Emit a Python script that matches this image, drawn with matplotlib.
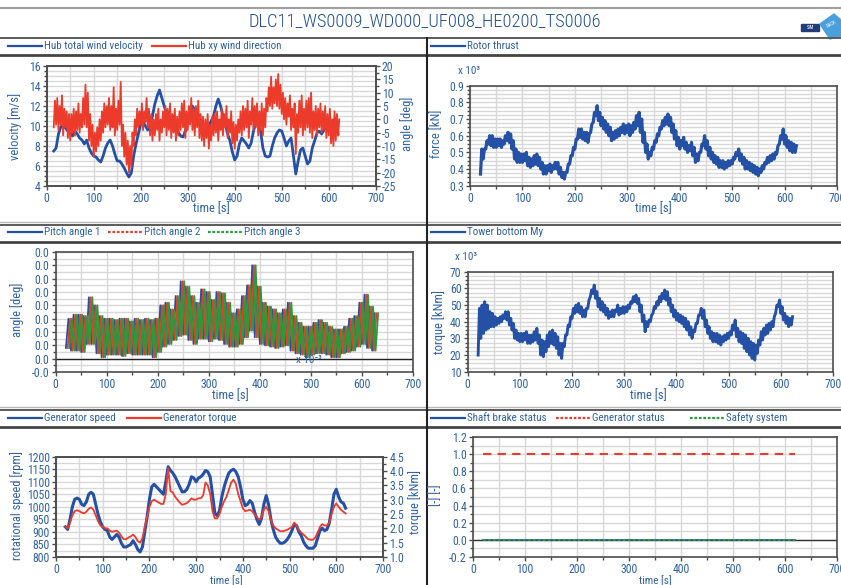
import numpy as np
import matplotlib
matplotlib.use('Agg')
import matplotlib.pyplot as plt
from matplotlib import font_manager
from matplotlib.lines import Line2D
from matplotlib.patches import Polygon, Rectangle
from matplotlib.ticker import MultipleLocator, FixedLocator, FixedFormatter, FormatStrFormatter

# schmale Schrift, falls vorhanden
vorhanden = {f.name for f in font_manager.fontManager.ttflist}
schmal = [n for n in ['Liberation Sans Narrow', 'Roboto Condensed', 'Open Sans Condensed',
                      'Noto Sans Condensed', 'DejaVu Sans Condensed'] if n in vorhanden]
hat_schmal = bool(schmal)
plt.rcParams['font.family'] = schmal + ['DejaVu Sans']
plt.rcParams['font.stretch'] = 'condensed'
plt.rcParams['axes.unicode_minus'] = False
FS = 8.5 if hat_schmal else 7.5
FS_BAND = 7.9 if hat_schmal else 7.0

titel = "DLC11_WS0009_WD000_UF008_HE0200_TS0006"

# --- hub wind (t = 15..620 s, 5 s) ---
t_wind = np.arange(15, 621, 5)
wind_speed = [7.5, 7.8, 9.2, 9.9, 10.1, 9.8, 9.5, 9.3, 9.0, 9.5,
              9.2, 8.8, 8.6, 8.2, 8.6, 7.8, 7.3, 7.0, 6.9, 6.6,
              6.4, 7.0, 7.8, 8.3, 8.6, 8.0, 7.2, 6.5, 6.5, 6.2,
              5.8, 5.3, 4.9, 5.3, 7.0, 8.2, 9.2, 10.2, 10.4, 10.0,
              9.6, 10.2, 11.0, 12.2, 13.0, 13.6, 12.8, 12.0, 11.2, 10.5,
              10.0, 9.8, 9.5, 9.4, 9.0, 8.9, 9.5, 10.5, 11.5, 12.0,
              11.6, 11.2, 11.0, 10.0, 9.3, 9.5, 10.0, 10.5, 11.0, 12.0,
              12.7, 12.0, 11.0, 10.2, 9.2, 8.5, 7.4, 6.6, 7.0, 8.2,
              8.8, 8.5, 8.2, 7.8, 8.3, 9.5, 10.3, 10.5, 9.5, 7.8,
              7.0, 6.9, 7.0, 8.0, 8.8, 9.3, 9.6, 9.5, 8.8, 8.0,
              8.5, 8.8, 7.0, 5.2, 6.5, 7.6, 7.8, 7.0, 6.2, 6.5,
              7.8, 8.5, 9.3, 9.5, 9.2, 9.6, 10.2, 10.0, 9.4, 10.5,
              10.8, 9.2]
wind_dir_lo = [-3, -2, -4, -2, -6, -3, -7, -8, -5, -6,
               -4, -5, -3, -2, -3, -8, -10, -14, -12, -10,
               -8, -5, -3, -2, -4, -3, -6, -4, -2, -10,
               -14, -17, -20, -18, -10, -6, -3, -2, -4, -1,
               -3, -6, -8, -6, -4, -8, -5, -3, -6, -4,
               -7, -5, -8, -6, -4, -3, -7, -4, -2, -4,
               -6, -3, -7, -8, -10, -7, -11, -8, -6, -5,
               -8, -4, -6, -3, -7, -5, -9, -11, -8, -5,
               -6, -4, -3, -7, -2, -4, -3, -6, -4, -6,
               -3, 3, 5, 4, 6, 5, 4, 2, 0, -2,
               1, -4, -3, -13, -5, -3, -6, -4, -3, -5,
               -7, -4, -6, -3, -5, -4, -7, -6, -9, -10,
               -8, -6]
wind_dir_hi = [7, 8, 5, 9, 4, 3, 2, 2, 4, 3,
               6, 2, 8, 13, 10, 2, -2, -5, -3, 0,
               3, 6, 5, 8, 5, 12, 4, 7, 14, -2,
               -5, -8, -10, -5, 0, 4, 3, 6, 3, 8,
               4, 2, 0, 2, 4, 0, 3, 5, 4, 6,
               2, 4, 1, 3, 6, 7, 3, 5, 8, 4,
               5, 7, 2, 1, 0, 2, -2, 1, 2, 3,
               0, 4, 2, 5, 0, 3, -1, -2, 0, 3,
               5, 4, 7, 3, 8, 5, 6, 3, 6, 4,
               8, 12, 16, 12, 15, 17, 13, 10, 8, 6,
               9, 4, 6, 2, 7, 9, 4, 7, 8, 10,
               3, 5, 4, 6, 3, 5, 2, 4, 0, 3,
               2, 0]

# --- loads (t = 20..620 s, 5 s), x 10^3 ---
t_load = np.arange(20, 621, 5)
thrust_lo = [0.37, 0.46, 0.52, 0.55, 0.54, 0.53, 0.53, 0.54, 0.53, 0.55,
             0.57, 0.56, 0.52, 0.46, 0.44, 0.44, 0.44, 0.45, 0.42, 0.41,
             0.42, 0.43, 0.42, 0.40, 0.37, 0.37, 0.39, 0.38, 0.40, 0.40,
             0.37, 0.35, 0.34, 0.38, 0.43, 0.48, 0.52, 0.58, 0.59, 0.58,
             0.57, 0.56, 0.62, 0.68, 0.72, 0.69, 0.66, 0.64, 0.62, 0.60,
             0.57, 0.58, 0.59, 0.60, 0.62, 0.61, 0.62, 0.60, 0.62, 0.64,
             0.66, 0.62, 0.56, 0.50, 0.46, 0.48, 0.52, 0.56, 0.60, 0.64,
             0.66, 0.67, 0.66, 0.62, 0.58, 0.54, 0.52, 0.54, 0.52, 0.50,
             0.51, 0.48, 0.44, 0.45, 0.50, 0.54, 0.52, 0.48, 0.46, 0.44,
             0.43, 0.41, 0.41, 0.40, 0.41, 0.42, 0.43, 0.46, 0.48, 0.45,
             0.43, 0.40, 0.40, 0.39, 0.38, 0.37, 0.36, 0.38, 0.40, 0.43,
             0.44, 0.45, 0.46, 0.49, 0.55, 0.58, 0.55, 0.53, 0.51, 0.50, 0.50]
thrust_hi = [0.52, 0.52, 0.57, 0.60, 0.60, 0.58, 0.58, 0.58, 0.57, 0.60,
             0.62, 0.61, 0.57, 0.52, 0.50, 0.49, 0.49, 0.50, 0.47, 0.46,
             0.48, 0.49, 0.47, 0.44, 0.42, 0.42, 0.43, 0.42, 0.44, 0.44,
             0.41, 0.38, 0.38, 0.43, 0.48, 0.53, 0.58, 0.64, 0.64, 0.62,
             0.62, 0.61, 0.67, 0.74, 0.78, 0.74, 0.71, 0.69, 0.67, 0.65,
             0.62, 0.63, 0.64, 0.65, 0.67, 0.66, 0.67, 0.66, 0.68, 0.72,
             0.74, 0.70, 0.62, 0.55, 0.50, 0.53, 0.57, 0.61, 0.65, 0.69,
             0.71, 0.73, 0.71, 0.67, 0.63, 0.59, 0.57, 0.59, 0.56, 0.54,
             0.56, 0.53, 0.49, 0.50, 0.55, 0.60, 0.57, 0.53, 0.50, 0.48,
             0.47, 0.45, 0.45, 0.44, 0.45, 0.45, 0.47, 0.50, 0.52, 0.49,
             0.47, 0.45, 0.44, 0.43, 0.42, 0.41, 0.40, 0.42, 0.44, 0.47,
             0.48, 0.49, 0.50, 0.54, 0.60, 0.64, 0.60, 0.57, 0.56, 0.55, 0.54]
tower_lo = [20, 30, 33, 35, 36, 37, 37, 38, 39, 40,
            42, 41, 38, 35, 30, 29, 28, 28, 29, 27,
            27, 28, 29, 27, 20, 19, 22, 25, 27, 26,
            24, 20, 18, 25, 32, 37, 42, 45, 46, 45,
            43, 43, 48, 55, 57, 54, 49, 47, 46, 44,
            42, 43, 43, 46, 44, 45, 45, 46, 48, 51,
            52, 51, 46, 40, 34, 37, 40, 45, 48, 50,
            52, 54, 53, 50, 46, 43, 41, 40, 39, 37,
            35, 32, 30, 34, 39, 44, 42, 37, 33, 30,
            28, 28, 27, 26, 28, 29, 30, 32, 35, 31,
            28, 27, 24, 22, 20, 18, 17, 21, 26, 29,
            32, 33, 35, 37, 45, 49, 45, 41, 39, 37, 38]
tower_hi = [48, 50, 52, 50, 46, 45, 43, 42, 43, 44,
            46, 46, 42, 39, 35, 33, 33, 33, 34, 32,
            32, 34, 36, 32, 29, 28, 32, 34, 35, 33,
            31, 27, 27, 32, 38, 43, 48, 50, 51, 49,
            47, 48, 53, 59, 62, 58, 54, 52, 50, 48,
            46, 47, 47, 50, 48, 49, 49, 50, 52, 55,
            56, 54, 50, 44, 40, 41, 44, 49, 52, 55,
            57, 59, 58, 54, 50, 47, 45, 44, 43, 42,
            40, 37, 35, 39, 44, 48, 47, 41, 37, 34,
            33, 33, 32, 31, 32, 33, 34, 38, 41, 36,
            34, 33, 32, 30, 28, 27, 26, 29, 34, 36,
            38, 39, 40, 43, 50, 53, 49, 45, 43, 42, 43]

# --- generator (t = 20..620 s, 5 s) ---
gen_speed = [920, 910, 950, 1000, 1030, 1035, 1030, 1010, 1005, 1020,
             1050, 1058, 1050, 1010, 970, 940, 920, 910, 905, 880,
             870, 880, 890, 880, 855, 840, 840, 845, 850, 865,
             850, 830, 820, 840, 900, 960, 1030, 1080, 1090, 1080,
             1070, 1060, 1050, 1100, 1160, 1145, 1135, 1120, 1100, 1080,
             1060, 1060, 1070, 1090, 1120, 1115, 1100, 1115, 1120, 1130,
             1145, 1140, 1120, 1050, 975, 965, 985, 1040, 1080, 1110,
             1135, 1145, 1150, 1140, 1120, 1080, 1030, 1005, 1010, 1025,
             1015, 980, 950, 930, 955, 1010, 1045, 1010, 950, 910,
             880, 865, 855, 855, 860, 870, 885, 905, 930, 925,
             900, 885, 860, 845, 835, 835, 835, 845, 875, 905,
             915, 905, 910, 935, 990, 1050, 1070, 1040, 1020, 1015, 995]
gen_torque = [2.05, 2.0, 2.2, 2.45, 2.6, 2.63, 2.6, 2.55, 2.52, 2.58,
              2.68, 2.73, 2.65, 2.45, 2.25, 2.1, 2.05, 2.0, 2.0, 1.92,
              1.88, 1.9, 1.92, 1.85, 1.72, 1.62, 1.62, 1.68, 1.72, 1.78,
              1.7, 1.55, 1.5, 1.65, 2.05, 2.4, 2.75, 2.95, 3.0, 2.95,
              2.9, 2.85, 2.85, 3.2, 4.1, 3.3, 3.25, 3.1, 3.0, 2.9,
              2.82, 2.85, 2.88, 2.95, 3.05, 3.0, 3.0, 3.05, 3.05, 3.15,
              3.6, 3.5, 3.2, 2.6, 2.35, 2.35, 2.5, 2.75, 2.95, 3.1,
              3.35, 3.6, 3.7, 3.55, 3.2, 2.95, 2.7, 2.6, 2.62, 2.65,
              2.6, 2.48, 2.4, 2.3, 2.4, 2.65, 2.75, 2.6, 2.3, 2.1,
              2.0, 1.95, 1.9, 1.9, 1.92, 1.95, 2.0, 2.05, 2.2, 2.1,
              1.95, 1.85, 1.78, 1.7, 1.62, 1.6, 1.6, 1.68, 1.85, 2.05,
              2.15, 2.1, 2.1, 2.2, 2.5, 2.75, 2.87, 2.75, 2.65, 2.58, 2.52]

# --- pitch (t = 20..620 s, 10 s) ---
t_pitch = np.arange(20, 621, 10)
pitch_lo = [0.8, 0.6, 0.6, 0.5, 1.1, 1.1, 0.4, 0.1, 0.3, 0.3,
            0.3, 0.2, 0.4, 0.3, 0.3, 0.3, 0.3, 0.1, 0.5, 0.9,
            1.1, 1.4, 1.7, 1.8, 1.4, 1.1, 1.5, 1.5, 1.3, 1.5,
            1.4, 1.1, 0.9, 0.9, 1.1, 1.6, 2.1, 1.6, 1.1, 1.0,
            0.9, 0.8, 0.9, 1.0, 0.6, 0.4, 0.3, 0.1, 0.3, 0.4,
            0.4, 0.3, 0.1, 0.1, 0.4, 0.5, 0.6, 0.9, 1.1, 0.8, 0.6]
pitch_hi = [3.0, 3.3, 3.3, 3.2, 4.6, 4.0, 3.2, 3.0, 3.0, 2.9,
            3.0, 3.0, 2.8, 3.0, 2.9, 3.0, 2.9, 3.0, 4.0, 4.2,
            3.7, 4.7, 5.8, 5.4, 4.7, 4.2, 5.2, 5.0, 4.4, 5.0,
            4.9, 4.2, 3.4, 3.7, 4.7, 5.5, 7.0, 5.4, 4.2, 3.9,
            3.7, 3.4, 3.7, 4.2, 3.2, 2.7, 2.4, 2.4, 2.7, 2.9,
            2.7, 2.4, 2.2, 2.2, 2.4, 3.0, 3.2, 4.2, 4.8, 3.9, 3.4]
pitch_ticks = [-1, 0, 1, 2, 3, 4, 5, 6, 7, 8]
pitch_ticklabels = ['-0.0', '0.0', '0.0', '0.0', '0.0', '0.0', '0.0', '0.0', '0.0', '0.0']

# --- status signals ---
t_status = [20, 620]
shaft_brake = [0, 0]
gen_status = [1, 1]
safety = [0, 0]

BLUE = '#2451a6'
RED = '#ec3a2b'
GREEN = '#2a9a3a'
TXT = '#2f62a3'
FRAME = '#4d4d4d'
GRID = '#d8d8d8'

W, H = 841, 585
fig = plt.figure(figsize=(W / 100, H / 100), dpi=100)


def fx(x):
    return x / W


def fy(y):
    return 1 - y / H


def achse(x0, y0, x1, y1):
    return fig.add_axes([fx(x0), fy(y1), (x1 - x0) / W, (y1 - y0) / H])


def hlinie(y, x0, x1, color, lw):
    fig.add_artist(Line2D([fx(x0), fx(x1)], [fy(y), fy(y)], color=color, lw=lw))


def eintrag(x, y, color, label, ls='-'):
    fig.add_artist(Line2D([fx(x), fx(x + 34)], [fy(y), fy(y)], color=color, lw=1.6, ls=ls))
    fig.text(fx(x + 36), fy(y), label, color=TXT, fontsize=FS_BAND, va='center', ha='left')


def text(x, y, s, rot=0, size=None):
    fig.text(fx(x), fy(y), s, color=TXT, fontsize=size or FS + 0.5, rotation=rot,
             ha='center', va='center')


def zickzack(t, lo, hi, halb, shift=0.0):
    tt = np.empty(2 * len(t))
    yy = np.empty(2 * len(t))
    tt[0::2] = np.asarray(t) + shift
    tt[1::2] = np.asarray(t) + shift + halb
    yy[0::2] = lo
    yy[1::2] = hi
    return tt, yy


def ticks(ax):
    ax.tick_params(which='both', direction='out', color=FRAME, labelcolor=TXT, labelsize=FS, pad=1.5)
    ax.tick_params(which='major', length=3, width=1)
    ax.tick_params(which='minor', length=2, width=1)
    for s in ax.spines.values():
        s.set_color(FRAME)
        s.set_linewidth(1.2)


def stil(ax, ymin, ymax, ystep, nsub):
    ax.set_xlim(0, 700)
    ax.set_ylim(ymin, ymax)
    ax.xaxis.set_major_locator(MultipleLocator(100))
    ax.xaxis.set_minor_locator(MultipleLocator(50))
    ax.yaxis.set_major_locator(MultipleLocator(ystep))
    ax.yaxis.set_minor_locator(MultipleLocator(ystep / nsub))
    ax.grid(True, which='both', color=GRID, lw=1.0)
    ax.set_axisbelow(True)
    ticks(ax)


def rechts(ax2, ymin, ymax, ystep, nsub):
    ax2.set_ylim(ymin, ymax)
    ax2.yaxis.set_major_locator(MultipleLocator(ystep))
    ax2.yaxis.set_minor_locator(MultipleLocator(ystep / nsub))
    ticks(ax2)


# Kopfzeile und Trennlinien
hlinie(8, 0, W, '#a0a0a0', 1.5)
fig.text(fx(425), fy(22), titel, color='#1d4f8e', fontsize=13.3 if hat_schmal else 12.2,
         fontweight='light', ha='center', va='center')
fig.add_artist(Rectangle((fx(801), fy(31)), 18 / W, 7 / H, color='#1f3d7a'))
fig.text(fx(810), fy(27.5), 'SIM', color='white', fontsize=3.5, ha='center', va='center')
fig.add_artist(Polygon([(fx(820), fy(24)), (fx(834), fy(14)), (fx(841), fy(20)),
                        (fx(841), fy(36)), (fx(830), fy(39))], closed=True, color='#4aa0dc'))
fig.text(fx(832), fy(24), 'PACK', color='white', fontsize=3.5, rotation=30, ha='center', va='center')

for y_top, y_bot in [(38, 55), (225, 242), (410, 427)]:
    hlinie(y_top, 0, W, '#5a5a5a', 1.4)
    hlinie(y_bot, 0, W, '#454545', 2.0)
hlinie(222, 0, W, '#b8b8b8', 1.0)
hlinie(407, 0, W, '#b8b8b8', 1.0)
fig.add_artist(Line2D([fx(427), fx(427)], [fy(38), fy(H)], color='#222222', lw=1.5))

# Legendenzeilen
eintrag(8, 46, BLUE, 'Hub total wind velocity')
eintrag(152, 46, RED, 'Hub xy wind direction')
eintrag(431, 46, BLUE, 'Rotor thrust')
eintrag(8, 232, BLUE, 'Pitch angle 1')
eintrag(108, 232, RED, 'Pitch angle 2', ls=(0, (1.2, 0.8)))
eintrag(208, 232, GREEN, 'Pitch angle 3', ls=(0, (1.2, 0.8)))
eintrag(431, 232, BLUE, 'Tower bottom My')
eintrag(8, 418, BLUE, 'Generator speed')
eintrag(127, 418, RED, 'Generator torque')
eintrag(431, 418, BLUE, 'Shaft brake status')
eintrag(556, 418, RED, 'Generator status', ls=(0, (1.2, 0.8)))
eintrag(690, 418, GREEN, 'Safety system', ls=(0, (1.2, 0.8)))

# Wind
ax = achse(46.7, 66, 375.7, 186)
stil(ax, 4, 16, 2, 4)
ax.plot(t_wind, wind_speed, color=BLUE, lw=2.0)
ax2 = ax.twinx()
rechts(ax2, -25, 20, 5, 2)
tt, yy = zickzack(t_wind, wind_dir_lo, wind_dir_hi, 2.5)
ax2.plot(tt, yy, color=RED, lw=1.3)
text(15, 126, 'velocity [m/s]', rot=90)
text(407, 124, 'angle [deg]', rot=90)
text(211, 209, 'time [s]')

# Rotorschub
ax = achse(470, 85.7, 837, 185.7)
stil(ax, 0.3, 0.9, 0.1, 4)
ax.yaxis.set_major_formatter(FormatStrFormatter('%.1f'))
tt, yy = zickzack(t_load, thrust_lo, thrust_hi, 2.5)
ax.plot(tt, yy, color=BLUE, lw=2.3)
text(437, 134, 'force [kN]', rot=90)
fig.text(fx(458), fy(71), 'x 10³', color=TXT, fontsize=FS - 0.5, ha='left', va='center')
text(653, 209, 'time [s]')

# Pitch
ax = achse(55.7, 252, 413, 372)
stil(ax, -1, 8, 1, 2)
ax.yaxis.set_major_locator(FixedLocator(pitch_ticks))
ax.yaxis.set_major_formatter(FixedFormatter(pitch_ticklabels))
ax.axhline(0, color='#222222', lw=1.0)
for farbe, shift in [(BLUE, 0.0), (RED, 3.3), (GREEN, 6.7)]:
    tt, yy = zickzack(t_pitch, pitch_lo, pitch_hi, 5.0, shift)
    ax.plot(tt, yy, color=farbe, lw=1.3)
text(17, 310, 'angle [deg]', rot=90)
fig.text(fx(296), fy(360), 'x 10⁻³', color=TXT, fontsize=FS - 0.5, ha='left', va='center')
text(230, 396, 'time [s]')

# Turmfuss
ax = achse(467.7, 271.7, 833, 371.7)
stil(ax, 10, 70, 10, 4)
tt, yy = zickzack(t_load, tower_lo, tower_hi, 2.5)
ax.plot(tt, yy, color=BLUE, lw=2.1)
text(439, 322, 'torque [kNm]', rot=90)
fig.text(fx(455), fy(257), 'x 10³', color=TXT, fontsize=FS - 0.5, ha='left', va='center')
text(648, 396, 'time [s]')

# Generator
ax = achse(56, 456.7, 383, 557)
stil(ax, 800, 1200, 50, 2)
ax.plot(t_load, gen_speed, color=BLUE, lw=2.2)
ax2 = ax.twinx()
rechts(ax2, 1.0, 4.5, 0.5, 2)
ax2.yaxis.set_major_formatter(FormatStrFormatter('%.1f'))
ax2.plot(t_load, gen_torque, color=RED, lw=1.3)
text(17, 505, 'rotational speed [rpm]', rot=90)
text(415, 502, 'torque [kNm]', rot=90)
text(226, 580.5, 'time [s]', size=FS - 0.5)

# Statussignale
ax = achse(473, 437, 837, 557)
stil(ax, -0.2, 1.2, 0.2, 2)
ax.yaxis.set_major_formatter(FormatStrFormatter('%.1f'))
ax.axhline(0, color='#333333', lw=1.0)
ax.plot(t_status, shaft_brake, color=BLUE, lw=1.2)
ax.plot(t_status, gen_status, color=RED, lw=1.5, ls=(0, (4, 3)))
ax.plot(t_status, safety, color=GREEN, lw=1.5, ls=(0, (1.2, 1.2)))
text(436, 495, '[-] [-]', rot=90)
text(655, 580.5, 'time [s]', size=FS - 0.5)

fig.savefig('out.png', dpi=100, facecolor='white')
